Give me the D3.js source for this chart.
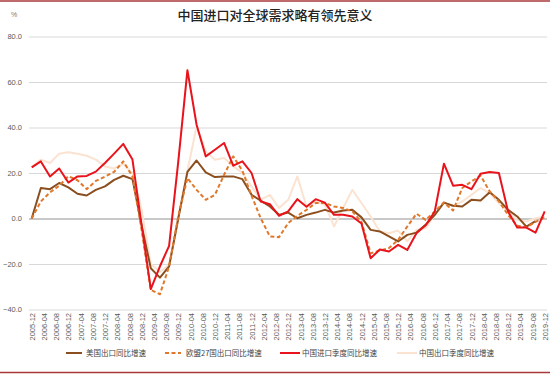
<!DOCTYPE html>
<html>
<head>
<meta charset="utf-8">
<script src="https://cdn.jsdelivr.net/npm/d3@7"></script>
<style>
  html, body { margin: 0; padding: 0; background: #fff; }
  svg { display: block; }
</style>
</head>
<body>
<svg id="chart" width="550" height="375"></svg>
<script>
// ---- data (quarterly, year-over-year %) ----
const categories = [
  "2005-12","2006-03","2006-06","2006-09","2006-12","2007-03","2007-06","2007-09","2007-12",
  "2008-03","2008-06","2008-09","2008-12","2009-03","2009-06","2009-09","2009-12",
  "2010-03","2010-06","2010-09","2010-12","2011-03","2011-06","2011-09","2011-12",
  "2012-03","2012-06","2012-09","2012-12","2013-03","2013-06","2013-09","2013-12",
  "2014-03","2014-06","2014-09","2014-12","2015-03","2015-06","2015-09","2015-12",
  "2016-03","2016-06","2016-09","2016-12","2017-03","2017-06","2017-09","2017-12",
  "2018-03","2018-06","2018-09","2018-12","2019-03","2019-06","2019-09","2019-12"
];
const usExport = [
  0, 13.4, 12.9, 15.6, 13.7, 10.9, 10.1, 12.6, 14.1,
  17, 18.8, 17.3, -3, -21.9, -26, -21, 0,
  20.5, 25.5, 20.3, 18.2, 18.5, 18.5, 17.3, 10.4,
  7.9, 5.3, 1.6, 2.6, 0.1, 1.6, 2.6, 3.8,
  2.6, 3.5, 3.8, 0.5, -5, -5.7, -7.9, -10.1,
  -7.2, -6.2, -2.8, 1.6, 7, 5.6, 5.3, 8.2,
  7.9, 11.5, 8.2, 3.8, 0.9, -3.6, -1.2, null
];
const euExport = [
  0, 7.5, 11.5, 14.4, 18.6, 16.8, 12.9, 16.5, 18.4,
  20.5, 25.1, 18.5, -5, -31.4, -33.3, -21, 1,
  17.8, 12.6, 8.2, 10.4, 19.2, 27.3, 21, 10,
  0.1, -7.9, -8.2, -2, 1.2, 3.8, 6.8, 6.8,
  5.3, 4.6, 3.1, -1.5, -15.3, -14.1, -13, -9.4,
  -3.5, 2.1, -0.6, 3.1, 7, 3.5, 13.4, 16.3,
  18.8, 11.9, 7.5, 1.6, -3.2, -3.8, -1.5, 0.5
];
const chinaImport = [
  22.5, 25.1, 18.5, 22, 15.8, 18.5, 18.7, 20.6, 24.4,
  28.5, 32.8, 25.9, -3, -31, -21, -12, 25,
  65.2, 41.2, 27.3, 30.2, 33.2, 23.2, 25.1, 20,
  7.5, 6.3, 1.2, 3.1, 8.5, 5.2, 8.5, 7,
  1.6, 1.6, 0.9, -2.2, -17.5, -13.6, -14.5, -11.6,
  -13.8, -6.5, -3, 3.1, 24.1, 14.4, 14.8, 12.9,
  19.7, 20.4, 20, 3.1, -4, -4, -6.2, 3.1
];
const chinaExport = [
  22.6, 25.9, 24.4, 28.5, 29.1, 28.5, 27.6, 25.9, 22.9,
  22, 24, 20, 4, -20, -23.5, -20.4, 0,
  21, 40.5, 29.5, 25.8, 26.6, 23, 20, 14.1,
  8.2, 10.4, 4.6, 8.2, 18.5, 5.3, 7.5, 6,
  -3.5, 4.6, 12.6, 6.8, 0.9, -5.7, -6.5, -5.3,
  -10.1, -5, -4.3, 1.6, 7, 5.3, 7.5, 10.4,
  13.4, 11.2, 6.8, 3.1, -0.6, -1.3, 0.1, 0.9
];
const tickLabels = [
  "2005-12","2006-04","2006-08","2006-12","2007-04","2007-08","2007-12","2008-04","2008-08",
  "2008-12","2009-04","2009-08","2009-12","2010-04","2010-08","2010-12","2011-04","2011-08",
  "2011-12","2012-04","2012-08","2012-12","2013-04","2013-08","2013-12","2014-04","2014-08",
  "2014-12","2015-04","2015-08","2015-12","2016-04","2016-08","2016-12","2017-04","2017-08",
  "2017-12","2018-04","2018-08","2018-12","2019-04","2019-08","2019-12"
];
const yTicks = [-40, -20, 0, 20, 40, 60, 80];
const title = "中国进口对全球需求略有领先意义";
const seriesNames = ["美国出口同比增速", "欧盟27国出口同比增速", "中国进口季度同比增速", "中国出口季度同比增速"];

// ---- helpers ----
const monthIndex = s => { const [y, m] = s.split("-").map(Number); return (y - 2005) * 12 + (m - 12); };

const svg = d3.select("#chart");
const W = 550, H = 375;

const x = d3.scaleLinear().domain([0, 168]).range([31.7, 544.7]);
const y = d3.scaleLinear().domain([-40, 80]).range([309.5, 36.5]);

// frame lines
svg.append("line").attr("x1", 0).attr("x2", W).attr("y1", 1).attr("y2", 1)
  .attr("stroke", "#A8383B").attr("stroke-width", 1.5);
svg.append("line").attr("x1", 0).attr("x2", W).attr("y1", 372.5).attr("y2", 372.5)
  .attr("stroke", "#A8383B").attr("stroke-width", 1.5);

// title
svg.append("text").attr("x", 275).attr("y", 20).attr("text-anchor", "middle")
  .attr("font-family", "'Noto Sans CJK SC', sans-serif").attr("font-size", 13)
  .attr("font-weight", 500).attr("fill", "#222").text(title);
svg.append("text").attr("x", 14).attr("y", 17).attr("text-anchor", "middle")
  .attr("font-family", "'Liberation Sans', Arial, sans-serif").attr("font-size", 7)
  .attr("fill", "#777").text("%");

// y axis gridlines and labels
const yAxis = d3.axisLeft(y).tickValues(yTicks).tickSize(-(547 - 29)).tickFormat(d3.format(".1f")).tickPadding(7);
const gy = svg.append("g").attr("transform", "translate(29,0)").call(yAxis);
gy.select(".domain").remove();
gy.selectAll(".tick line").attr("stroke", d => d === 0 ? "#C8C8C8" : "#D9D9D9")
  .attr("stroke-width", d => d === 0 ? 1.8 : 1);
gy.selectAll(".tick text").attr("font-family", "'Liberation Sans', Arial, sans-serif")
  .attr("font-size", 7.5).attr("fill", "#595959");

// x axis labels
const xAxis = d3.axisBottom(x).tickValues(tickLabels.map(monthIndex)).tickSize(0)
  .tickFormat((d, i) => tickLabels[i]);
const gx = svg.append("g").attr("transform", "translate(0,313)").call(xAxis);
gx.select(".domain").remove();
gx.selectAll(".tick text")
  .attr("font-family", "'Liberation Sans', Arial, sans-serif").attr("font-size", 7.5).attr("fill", "#595959")
  .attr("text-anchor", "end").attr("transform", "rotate(-90)")
  .attr("x", 0).attr("y", 0).attr("dx", 0).attr("dy", "0.35em");

// lines
const line = d3.line()
  .defined(d => d.v !== null)
  .x(d => x(monthIndex(d.c)))
  .y(d => y(d.v));
const mk = arr => categories.map((c, i) => ({ c, v: arr[i] }));

const series = [
  { data: chinaExport, color: "#FBE3D2", width: 2, dash: null },
  { data: usExport, color: "#8B4E1E", width: 2, dash: null },
  { data: euExport, color: "#E0782B", width: 2, dash: "4,2.5" },
  { data: chinaImport, color: "#E8131B", width: 2, dash: null }
];
series.forEach(s => {
  svg.append("path").datum(mk(s.data)).attr("d", line)
    .attr("fill", "none").attr("stroke", s.color).attr("stroke-width", s.width)
    .attr("stroke-linejoin", "round")
    .attr("stroke-dasharray", s.dash);
});

// legend
const legend = [
  { name: seriesNames[0], color: "#8B4E1E", dash: null, x1: 66, x2: 82, tx: 86 },
  { name: seriesNames[1], color: "#E0782B", dash: "4,2.5", x1: 165, x2: 181, tx: 186 },
  { name: seriesNames[2], color: "#E8131B", dash: null, x1: 280, x2: 300, tx: 302 },
  { name: seriesNames[3], color: "#FBE3D2", dash: null, x1: 397, x2: 417, tx: 419 }
];
const lg = svg.append("g");
legend.forEach(l => {
  lg.append("line").attr("x1", l.x1).attr("x2", l.x2).attr("y1", 353).attr("y2", 353)
    .attr("stroke", l.color).attr("stroke-width", 2).attr("stroke-dasharray", l.dash);
  lg.append("text").attr("x", l.tx).attr("y", 355.5)
    .attr("font-family", "'Noto Sans CJK SC', sans-serif").attr("font-size", 7.5)
    .attr("fill", "#444").text(l.name);
});
</script>
</body>
</html>
